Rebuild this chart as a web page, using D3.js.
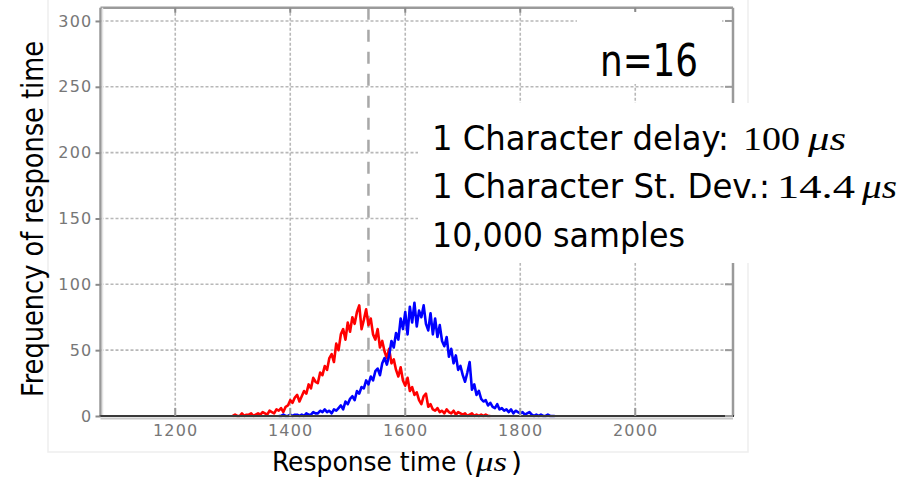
<!DOCTYPE html>
<html><head><meta charset="utf-8">
<script src="https://cdn.jsdelivr.net/npm/d3@7"></script>
<style>body{margin:0;background:#fff} svg{display:block}</style>
</head><body>
<svg id="c" width="910" height="481"></svg>
<script>
// ---------- data ----------
const xTicks = [1200, 1400, 1600, 1800, 2000];
const yTicks = [0, 50, 100, 150, 200, 250, 300];
const xDomain = [1070, 2170];
const yDomain = [0, 310];
const binStep = 4;
const redStart = 1300;
const redCounts = [
  0,1,0,0,2,0,1,1,2,0,
  1,2,1,3,2,1,4,3,2,5,
  4,6,3,7,8,12,10,14,16,11,
  15,19,17,24,21,29,26,25,33,31,
  38,35,44,47,41,55,50,62,66,58,
  71,64,75,70,79,84,66,73,81,69,
  74,62,58,66,52,57,49,44,51,40,
  43,35,30,37,27,23,29,19,22,16,
  18,12,9,15,17,7,9,5,4,6,
  3,4,2,5,3,2,4,1,3,2,
  1,2,0,1,2,0,1,0,1,0,
  1,0,0
];
const blueStart = 1380;
const blueCounts = [
  0,0,1,0,0,1,0,1,1,0,
  1,0,2,1,1,3,2,2,4,3,
  5,3,4,2,5,4,6,8,5,11,
  9,13,15,12,19,17,22,21,27,24,
  30,27,34,36,31,40,44,39,46,57,
  52,63,58,74,66,79,62,83,71,86,
  68,80,75,84,70,65,78,62,74,60,
  69,57,53,60,45,51,40,46,35,38,
  31,26,33,41,20,24,16,19,13,11,
  12,8,10,7,6,9,5,6,4,5,
  3,5,2,4,3,2,3,1,2,3,
  1,0,1,0,1,0,0,1,0,0,
  0
];
const thresholdX = 1536;
const annotation = { n: "n=16",
  lines: [
    { text: "1 Character delay:", num: "100", unit: "μs" },
    { text: "1 Character St. Dev.:", num: "14.4", unit: "μs" },
    { text: "10,000 samples", num: null, unit: null }
  ] };

// ---------- layout ----------
const svg = d3.select("#c");
const L = 100.5, R = 733, T = 7.8, B = 416;
const x = d3.scaleLinear().domain(xDomain).range([L, R]);
const y = d3.scaleLinear().domain(yDomain).range([B, T]);
const SANS = "'DejaVu Sans Condensed','DejaVu Sans',sans-serif";
const SERIF = "'Liberation Serif','DejaVu Serif',serif";

// faint figure frame
svg.append("rect").attr("x", 48).attr("y", -5).attr("width", 700).attr("height", 457)
  .attr("fill", "none").attr("stroke", "#eeeeee").attr("stroke-width", 1.5);

// grid
const grid = svg.append("g");
grid.selectAll("line.h").data(yTicks.filter(d => d > 0)).join("line")
  .attr("x1", L).attr("x2", R).attr("y1", d => y(d)).attr("y2", d => y(d))
  .attr("stroke", "#b8b8b8").attr("stroke-width", 1.6).attr("stroke-dasharray", "3,2");
grid.selectAll("line.v").data(xTicks).join("line")
  .attr("y1", T).attr("y2", B).attr("x1", d => x(d)).attr("x2", d => x(d))
  .attr("stroke", "#b8b8b8").attr("stroke-width", 1.6).attr("stroke-dasharray", "3,2");

// threshold dashed line
svg.append("line").attr("x1", x(thresholdX)).attr("x2", x(thresholdX)).attr("y1", T).attr("y2", B)
  .attr("stroke", "#a8a8a8").attr("stroke-width", 2.5).attr("stroke-dasharray", "12,10");

// curves
const line = d3.line().x(d => x(d.t)).y(d => y(d.v));
const redData = redCounts.map((v, i) => ({ t: redStart + i * binStep, v }));
const blueData = blueCounts.map((v, i) => ({ t: blueStart + i * binStep, v }));
svg.append("path").datum(redData).attr("d", line).attr("fill", "none")
  .attr("stroke", "#ff0000").attr("stroke-width", 2.6).attr("stroke-linejoin", "round");
svg.append("path").datum(blueData).attr("d", line).attr("fill", "none")
  .attr("stroke", "#0000ff").attr("stroke-width", 2.6).attr("stroke-linejoin", "round");

// spines
svg.append("line").attr("x1", L).attr("x2", R).attr("y1", T).attr("y2", T).attr("stroke", "#9a9a9a").attr("stroke-width", 2.5);
svg.append("line").attr("x1", R).attr("x2", R).attr("y1", T).attr("y2", B).attr("stroke", "#9a9a9a").attr("stroke-width", 2.5);
svg.append("line").attr("x1", L).attr("x2", L).attr("y1", T).attr("y2", B).attr("stroke", "#999").attr("stroke-width", 2.5);
svg.append("line").attr("x1", L + 2).attr("x2", L + 2).attr("y1", T).attr("y2", B).attr("stroke", "#e4e4e4").attr("stroke-width", 1.5);
svg.append("line").attr("x1", L).attr("x2", R).attr("y1", B + 2.5).attr("y2", B + 2.5).attr("stroke", "#c8c8c8").attr("stroke-width", 2);
svg.append("line").attr("x1", L - 1).attr("x2", R + 1).attr("y1", B).attr("y2", B).attr("stroke", "#3a3a3a").attr("stroke-width", 2.2);

// axes with d3
const yAxis = svg.append("g").attr("transform", `translate(${L},0)`)
  .call(d3.axisLeft(y).tickValues(yTicks).tickFormat(d3.format("d")).tickSize(5).tickPadding(3));
const xAxis = svg.append("g").attr("transform", `translate(0,${B})`)
  .call(d3.axisBottom(x).tickValues(xTicks).tickFormat(d3.format("d")).tickSize(0).tickPadding(9));
[yAxis, xAxis].forEach(g => {
  g.select(".domain").remove();
  g.selectAll(".tick line").attr("stroke", "#8a8a8a").attr("stroke-width", 2);
  g.selectAll(".tick text").attr("fill", "#777").style("font-family", "'DejaVu Sans',sans-serif")
    .style("font-size", "16px").style("letter-spacing", "1.2px");
});
// inward ticks top/bottom/right
svg.append("g").selectAll("line").data(xTicks).join("line")
  .attr("x1", d => x(d)).attr("x2", d => x(d)).attr("y1", T).attr("y2", T + 5)
  .attr("stroke", "#8a8a8a").attr("stroke-width", 2);
svg.append("g").selectAll("line").data(xTicks).join("line")
  .attr("x1", d => x(d)).attr("x2", d => x(d)).attr("y1", B - 8).attr("y2", B)
  .attr("stroke", "#9a9a9a").attr("stroke-width", 2);
svg.append("g").selectAll("line").data(yTicks).join("line")
  .attr("x1", R - 8).attr("x2", R).attr("y1", d => y(d)).attr("y2", d => y(d))
  .attr("stroke", "#9a9a9a").attr("stroke-width", 2);

// annotation boxes (cover the plot)
svg.append("rect").attr("x", 577).attr("y", 12).attr("width", 145).attr("height", 72).attr("fill", "#fff");
svg.append("rect").attr("x", 418).attr("y", 103).attr("width", 492).attr("height", 160).attr("fill", "#fff");

function fit(sel, x0, x1) {
  sel.attr("x", x0).attr("textLength", x1 - x0).attr("lengthAdjust", "spacingAndGlyphs");
  return sel;
}
fit(svg.append("text").attr("y", 76).style("font-family", SANS).style("font-size", "44px")
  .attr("fill", "#000").text(annotation.n), 600, 698);

const lineY = [150, 198, 247];
const sansEnd = [729, 770, 685];
const numPos = [[743, 800], [777, 855]];
const unitPos = [[808, 846], [862, 897]];
annotation.lines.forEach((ln, i) => {
  fit(svg.append("text").attr("y", lineY[i]).style("font-family", SANS).style("font-size", "33px")
    .attr("fill", "#000").text(ln.text), 432, sansEnd[i]);
  if (ln.num) {
    fit(svg.append("text").attr("y", lineY[i]).style("font-family", SERIF).style("font-size", "33px")
      .attr("fill", "#000").text(ln.num), numPos[i][0], numPos[i][1]);
    fit(svg.append("text").attr("y", lineY[i]).style("font-family", SERIF).style("font-size", "33px")
      .style("font-style", "italic").attr("fill", "#000").text(ln.unit), unitPos[i][0], unitPos[i][1]);
  }
});

// axis titles
fit(svg.append("text").attr("y", 471).style("font-family", SANS).style("font-size", "27px")
  .attr("fill", "#000").text("Response time ("), 272, 474);
fit(svg.append("text").attr("y", 471).style("font-family", SERIF).style("font-size", "28px")
  .style("font-style", "italic").attr("fill", "#000").text("μs"), 476, 507);
fit(svg.append("text").attr("y", 471).style("font-family", SANS).style("font-size", "27px")
  .attr("fill", "#000").text(")"), 511, 522);

svg.append("text").attr("transform", "translate(43,397) rotate(-90)")
  .attr("x", 0).attr("y", 0).attr("textLength", 356).attr("lengthAdjust", "spacingAndGlyphs")
  .style("font-family", SANS).style("font-size", "30px").attr("fill", "#000")
  .text("Frequency of response time");
</script>
</body></html>
